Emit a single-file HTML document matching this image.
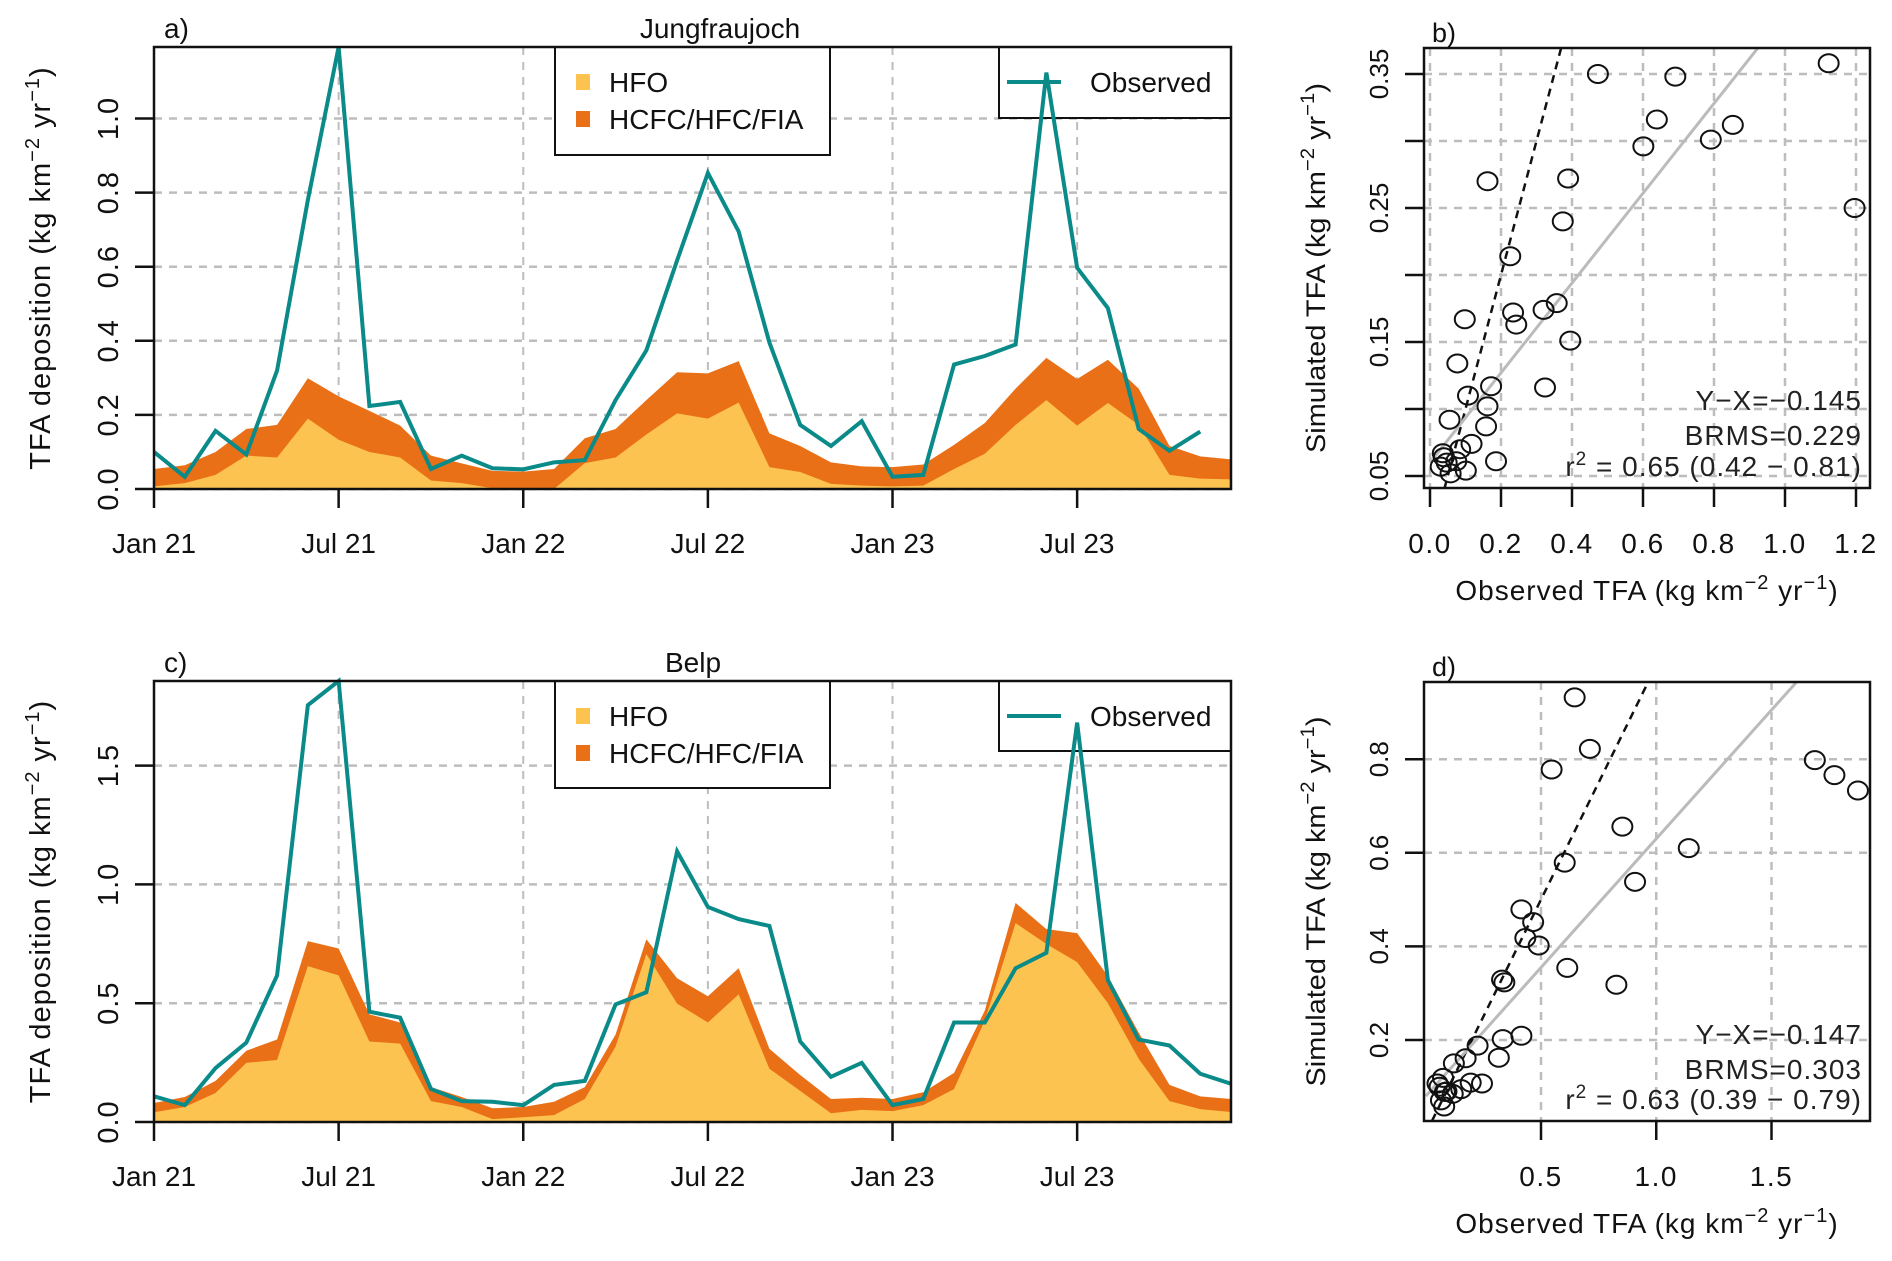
<!DOCTYPE html>
<html><head><meta charset="utf-8">
<style>
html,body{margin:0;padding:0;background:#fff;}
svg{display:block;font-family:"Liberation Sans",sans-serif;}
</style></head>
<body>
<svg id="fig" width="1892" height="1261" viewBox="0 0 1892 1261" xmlns="http://www.w3.org/2000/svg"></svg>
<script>
// ---- Data ----
const months = ["Jan 21","Jul 21","Jan 22","Jul 22","Jan 23","Jul 23"];
const monthTickIdx = [0,6,12,18,24,30];
const obsA = [0.100,0.033,0.157,0.093,0.320,0.780,1.193,0.224,0.235,0.054,0.090,0.056,0.053,0.072,0.078,0.240,0.374,0.617,0.853,0.695,0.395,0.173,0.116,0.183,0.033,0.038,0.336,0.359,0.390,1.124,0.597,0.488,0.162,0.103,0.155];
const hfoA = [0.007,0.016,0.038,0.090,0.085,0.190,0.133,0.100,0.085,0.023,0.016,0.002,0.000,0.000,0.070,0.085,0.147,0.204,0.190,0.233,0.059,0.046,0.014,0.009,0.007,0.009,0.054,0.095,0.173,0.240,0.171,0.232,0.173,0.038,0.028,0.026];
const totA = [0.054,0.064,0.100,0.162,0.173,0.299,0.250,0.211,0.171,0.090,0.069,0.049,0.047,0.054,0.137,0.162,0.240,0.315,0.312,0.345,0.150,0.116,0.072,0.061,0.059,0.066,0.119,0.178,0.271,0.354,0.297,0.349,0.271,0.116,0.088,0.080];
const obsC = [0.108,0.071,0.227,0.334,0.617,1.754,1.856,0.464,0.439,0.139,0.088,0.085,0.071,0.156,0.173,0.495,0.546,1.139,0.905,0.854,0.825,0.339,0.190,0.249,0.071,0.097,0.419,0.419,0.647,0.712,1.681,0.597,0.347,0.322,0.203,0.161];
const hfoC = [0.041,0.063,0.122,0.249,0.261,0.656,0.617,0.339,0.330,0.088,0.063,0.012,0.020,0.029,0.097,0.317,0.707,0.498,0.419,0.537,0.224,0.131,0.037,0.051,0.046,0.071,0.139,0.427,0.837,0.749,0.673,0.500,0.266,0.088,0.054,0.042];
const totC = [0.080,0.105,0.173,0.300,0.347,0.761,0.730,0.453,0.419,0.147,0.105,0.058,0.063,0.085,0.147,0.368,0.769,0.605,0.529,0.647,0.308,0.198,0.097,0.102,0.097,0.125,0.207,0.469,0.922,0.812,0.795,0.614,0.376,0.156,0.108,0.097];
const yTicksA = [0.0,0.2,0.4,0.6,0.8,1.0];
const yTickLabelsA = ["0.0","0.2","0.4","0.6","0.8","1.0"];
const yTicksC = [0.0,0.5,1.0,1.5];
const yTickLabelsC = ["0.0","0.5","1.0","1.5"];
const scatBx = [0.473,0.691,1.123,0.639,0.853,0.791,0.601,0.162,0.389,0.374,1.196,0.226,0.234,0.243,0.320,0.357,0.098,0.395,0.077,0.324,0.172,0.107,0.162,0.158,0.055,0.117,0.085,0.186,0.101,0.074,0.036,0.039,0.030,0.058,0.047];
const scatBy = [0.350,0.348,0.358,0.316,0.312,0.301,0.296,0.270,0.272,0.240,0.250,0.214,0.172,0.163,0.174,0.179,0.167,0.151,0.134,0.116,0.117,0.110,0.102,0.087,0.092,0.074,0.070,0.061,0.054,0.061,0.067,0.064,0.057,0.052,0.060];
const scatDx = [0.646,0.712,0.546,1.688,1.773,1.875,0.853,1.141,0.603,0.908,0.415,0.466,0.432,0.490,0.614,0.827,0.331,0.341,0.415,0.334,0.225,0.317,0.173,0.122,0.075,0.051,0.244,0.195,0.154,0.117,0.083,0.066,0.080,0.090,0.060];
const scatDy = [0.932,0.822,0.778,0.798,0.766,0.733,0.656,0.610,0.579,0.538,0.479,0.452,0.418,0.402,0.354,0.318,0.329,0.323,0.209,0.202,0.188,0.162,0.161,0.150,0.119,0.107,0.107,0.109,0.095,0.085,0.089,0.071,0.058,0.090,0.100];
const bXTicks = [0.0,0.2,0.4,0.6,0.8,1.0,1.2];
const bXLabels = ["0.0","0.2","0.4","0.6","0.8","1.0","1.2"];
const bYTicks = [0.05,0.10,0.15,0.20,0.25,0.30,0.35];
const bYLabels = ["0.05","","0.15","","0.25","","0.35"];
const dXTicks = [0.5,1.0,1.5];
const dXLabels = ["0.5","1.0","1.5"];
const dYTicks = [0.2,0.4,0.6,0.8];
const dYLabels = ["0.2","0.4","0.6","0.8"];
const statsB = ["Y\u2212X=\u22120.145","BRMS=0.229","0.65 (0.42 \u2212 0.81)"];
const statsD = ["Y\u2212X=\u22120.147","BRMS=0.303","0.63 (0.39 \u2212 0.79)"];
const fitB = [0.06,0.335];
const fitD = [0.08,0.55];

const NS="http://www.w3.org/2000/svg";
const svg=document.getElementById('fig');
function mk(tag,attrs,parent,text){const e=document.createElementNS(NS,tag);for(const k in attrs)e.setAttribute(k,attrs[k]);if(text!==undefined)e.textContent=text;(parent||svg).appendChild(e);return e;}
const teal="#0a8a88", orange="#ea7017", yellow="#fcc350", grid="#bdbdbd";

function timePanel(o){
  const g=mk('g',{});
  
  
  const X=i=>o.L+(o.R-o.L)*i/35, Y=v=>o.B-(o.B-o.T)*v/o.ymax;
  monthTickIdx.forEach(i=>{const l=mk('line',{x1:X(i),x2:X(i),y1:o.T,y2:o.B,stroke:grid,'stroke-width':2,'stroke-dasharray':'8,7'},g);});
  o.yt.forEach(v=>{const l=mk('line',{x1:o.L,x2:o.R,y1:Y(v),y2:Y(v),stroke:grid,'stroke-width':2.5,'stroke-dasharray':'8,7'},g);});
  // legends (drawn beneath data)
  const lg=mk('g',{},g);
  mk('rect',{x:555,y:o.T,width:275,height:o.lh,fill:'#fff',stroke:'#111','stroke-width':2},lg);
  mk('rect',{x:576,y:o.T+27,width:14,height:16,fill:yellow},lg);
  mk('text',{x:609,y:o.T+45,'font-size':28,fill:'#111'},lg,'HFO');
  mk('rect',{x:576,y:o.T+64,width:14,height:16,fill:orange},lg);
  mk('text',{x:609,y:o.T+82,'font-size':28,fill:'#111'},lg,'HCFC/HFC/FIA');
  const lo=mk('g',{},g);
  mk('rect',{x:999,y:o.T,width:o.R-999,height:o.oh,fill:'#fff',stroke:'#111','stroke-width':2},lo);
  mk('line',{x1:1007,x2:1061,y1:o.T+35,y2:o.T+35,stroke:teal,'stroke-width':4},lo);
  mk('text',{x:1090,y:o.T+45,'font-size':28,fill:'#111'},lo,'Observed');
  // areas
  let d="M"+X(0)+","+Y(0);o.tot.forEach((v,i)=>d+=" L"+X(i)+","+Y(v));d+=" L"+X(35)+","+Y(0)+"Z";
  const a1=mk('path',{d:d,fill:orange},g);
  d="M"+X(0)+","+Y(0);o.hfo.forEach((v,i)=>d+=" L"+X(i)+","+Y(v));d+=" L"+X(35)+","+Y(0)+"Z";
  const a2=mk('path',{d:d,fill:yellow},g);
  const pts=o.obs.map((v,i)=>X(i)+","+Y(v)).join(" ");
  const pl=mk('polyline',{points:pts,fill:'none',stroke:teal,'stroke-width':4,'stroke-linejoin':'miter'},g);
  const bx=mk('rect',{x:o.L,y:o.T,width:o.R-o.L,height:o.B-o.T,fill:'none',stroke:'#111','stroke-width':2.5},g);
  monthTickIdx.forEach((i,k)=>{mk('line',{x1:X(i),x2:X(i),y1:o.B,y2:o.B+19,stroke:'#111','stroke-width':2.5},g);
    const t=mk('text',{x:X(i),y:o.B+64,'font-size':28,'text-anchor':'middle',fill:'#111'},g,months[k]);});
  o.yt.forEach((v,k)=>{mk('line',{x1:o.L-19,x2:o.L,y1:Y(v),y2:Y(v),stroke:'#111','stroke-width':2.5},g);
    const t=mk('text',{x:0,y:0,transform:`translate(${o.L-36},${Y(v)}) rotate(-90)`,'font-size':29,'text-anchor':'middle',fill:'#111','letter-spacing':'1'},g,o.yl[k]);});
  const yt=mk('text',{x:0,y:0,transform:`translate(50,${(o.T+o.B)/2}) rotate(-90)`,'font-size':29,'text-anchor':'middle',fill:'#111','letter-spacing':'1'},g);
  
  yt.innerHTML='TFA deposition (kg km<tspan dy="-11" font-size="20">\u22122</tspan><tspan dy="11"> yr</tspan><tspan dy="-11" font-size="20">\u22121</tspan><tspan dy="11">)</tspan>';
  const pt=mk('text',{x:o.L+10,y:o.T-9,'font-size':28,fill:'#111'},g,o.letter);
  const tt=mk('text',{x:o.titleX,y:o.T-9,'font-size':28,'text-anchor':'middle',fill:'#111'},g,o.title);
}
timePanel({name:'panel-a-jungfraujoch',L:154,R:1231,T:47,B:489,ymax:1.193,obs:obsA,hfo:hfoA,tot:totA,yt:yTicksA,yl:yTickLabelsA,letter:'a)',title:'Jungfraujoch',titleX:720,lh:108,oh:71});
timePanel({name:'panel-c-belp',L:154,R:1231,T:681,B:1122,ymax:1.856,obs:obsC,hfo:hfoC,tot:totC,yt:yTicksC,yl:yTickLabelsC,letter:'c)',title:'Belp',titleX:693,lh:107,oh:70});

function scatPanel(o){
  const g=mk('g',{});
  
  
  const X=v=>o.x0p+(v-o.x0)*o.xs, Y=v=>o.y0p-(v-o.y0)*o.ys;
  const cl=mk('clipPath',{id:o.name+'-clip'},g);mk('rect',{x:o.L,y:o.T,width:o.R-o.L,height:o.B-o.T},cl);
  o.xt.forEach(v=>{const l=mk('line',{x1:X(v),x2:X(v),y1:o.T,y2:o.B,stroke:grid,'stroke-width':2.5,'stroke-dasharray':'8,7'},g);});
  o.yt.forEach(v=>{const l=mk('line',{x1:o.L,x2:o.R,y1:Y(v),y2:Y(v),stroke:grid,'stroke-width':2.5,'stroke-dasharray':'8,7'},g);});
  const cg=mk('g',{'clip-path':`url(#${o.name}-clip)`},g);
  const l1=mk('line',{x1:X(0),y1:Y(0),x2:X(2),y2:Y(2),stroke:'#111','stroke-width':2.5,'stroke-dasharray':'8,6'},cg);
  const l2=mk('line',{x1:X(0),y1:Y(o.fit[0]),x2:X(2),y2:Y(o.fit[0]+2*o.fit[1]),stroke:'#bbb','stroke-width':3},cg);
  o.px.forEach((v,i)=>{const c=mk('ellipse',{cx:X(v),cy:Y(o.py[i]),rx:10,ry:9,fill:'none',stroke:'#111','stroke-width':2},g);});
  const bx=mk('rect',{x:o.L,y:o.T,width:o.R-o.L,height:o.B-o.T,fill:'none',stroke:'#111','stroke-width':2.5},g);
  o.xt.forEach((v,k)=>{mk('line',{x1:X(v),x2:X(v),y1:o.B,y2:o.B+19,stroke:'#111','stroke-width':2.5},g);
    const t=mk('text',{x:X(v),y:o.B+65,'font-size':28,'text-anchor':'middle',fill:'#111','letter-spacing':'1.5'},g,o.xl[k]);});
  o.yt.forEach((v,k)=>{mk('line',{x1:o.L-19,x2:o.L,y1:Y(v),y2:Y(v),stroke:'#111','stroke-width':2.5},g);
    if(o.yl[k]){const t=mk('text',{x:0,y:0,transform:`translate(${o.L-36},${Y(v)}) rotate(-90)`,'font-size':26,'text-anchor':'middle',fill:'#111'},g,o.yl[k]);}});
  const xt=mk('text',{x:(o.L+o.R)/2,y:o.B+112,'font-size':28,'text-anchor':'middle',fill:'#111','letter-spacing':'1'},g);
  
  xt.innerHTML='Observed TFA (kg km<tspan dy="-11" font-size="20">\u22122</tspan><tspan dy="11"> yr</tspan><tspan dy="-11" font-size="20">\u22121</tspan><tspan dy="11">)</tspan>';
  const yt=mk('text',{x:0,y:0,transform:`translate(1325,${(o.T+o.B)/2}) rotate(-90)`,'font-size':27,'text-anchor':'middle',fill:'#111','textLength':'370','lengthAdjust':'spacingAndGlyphs'},g);
  
  yt.innerHTML='Simulated TFA (kg km<tspan dy="-11" font-size="19">\u22122</tspan><tspan dy="11"> yr</tspan><tspan dy="-11" font-size="19">\u22121</tspan><tspan dy="11">)</tspan>';
  const st=mk('g',{},g);
  mk('text',{x:o.R-8,y:o.sy[0],'font-size':28,'text-anchor':'end',fill:'#222','letter-spacing':'1'},st,o.stats[0]);
  mk('text',{x:o.R-8,y:o.sy[1],'font-size':28,'text-anchor':'end',fill:'#222','letter-spacing':'1'},st,o.stats[1]);
  const r=mk('text',{x:o.R-8,y:o.sy[2],'font-size':28,'text-anchor':'end',fill:'#222','letter-spacing':'1'},st);
  r.innerHTML='r<tspan dy="-11" font-size="19">2</tspan><tspan dy="11"> = '+o.stats[2]+'</tspan>';
  const pt=mk('text',{x:o.L+8,y:o.T-6,'font-size':27,fill:'#111'},g,o.letter);
}
scatPanel({name:'panel-b-scatter',L:1424,R:1870,T:48,B:488,x0:0,x0p:1430,xs:355,y0:0.05,y0p:476,ys:1340,px:scatBx,py:scatBy,xt:bXTicks,xl:bXLabels,yt:bYTicks,yl:bYLabels,fit:fitB,stats:statsB,sy:[410,445,476],letter:'b)'});
scatPanel({name:'panel-d-scatter',L:1424,R:1870,T:682,B:1121,x0:0.5,x0p:1541,xs:230.5,y0:0.2,y0p:1040,ys:468,px:scatDx,py:scatDy,xt:dXTicks,xl:dXLabels,yt:dYTicks,yl:dYLabels,fit:fitD,stats:statsD,sy:[1044,1079,1109],letter:'d)'});
</script>
</body></html>
